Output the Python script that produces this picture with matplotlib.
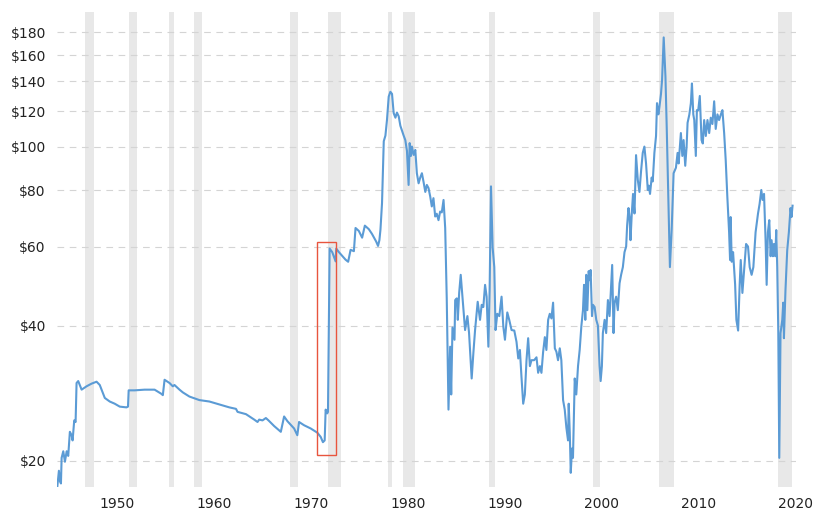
import matplotlib
matplotlib.use("Agg")
import matplotlib.pyplot as plt
from matplotlib.patches import Rectangle
from matplotlib.ticker import FixedLocator, NullLocator

# 价格序列 (年份, 美元)
years = [
    1943.84, 1944.04, 1944.15, 1944.25, 1944.32, 1944.49, 1944.66, 1944.84, 1945.0, 1945.17,
    1945.35, 1945.45, 1945.62, 1945.76, 1945.86, 1946.03, 1946.38, 1946.89, 1947.40, 1947.92,
    1948.25, 1948.77, 1949.28, 1949.79, 1950.31, 1951.0, 1951.16, 1951.23, 1951.85, 1952.87,
    1953.90, 1954.59, 1954.75, 1954.93, 1955.44, 1955.78, 1955.95, 1956.47, 1956.81, 1957.49,
    1958.52, 1959.55, 1960.58, 1961.60, 1962.29, 1962.45, 1963.32, 1964.17, 1964.51, 1964.68,
    1965.02, 1965.37, 1965.64, 1966.22, 1966.91, 1967.25, 1967.59, 1968.28, 1968.61, 1968.79,
    1969.30, 1969.99, 1970.67, 1971.02, 1971.25, 1971.43, 1971.53, 1971.69, 1971.77, 1971.94,
    1972.21, 1972.56, 1972.62, 1972.90, 1973.58, 1973.85, 1974.10, 1974.44, 1974.61, 1974.95,
    1975.29, 1975.57, 1975.98, 1976.31, 1976.73, 1976.93, 1977.07, 1977.18, 1977.34, 1977.52,
    1977.69, 1977.85, 1978.03, 1978.20, 1978.37, 1978.54, 1978.72, 1978.88, 1979.06, 1979.23,
    1979.57, 1979.74, 1979.91, 1980.08, 1980.19, 1980.32, 1980.42, 1980.60, 1980.77, 1980.93,
    1981.11, 1981.28, 1981.45, 1981.62, 1981.80, 1981.96, 1982.13, 1982.31, 1982.47, 1982.64,
    1982.82, 1982.98, 1983.16, 1983.33, 1983.50, 1983.68, 1983.85, 1984.01, 1984.19, 1984.36,
    1984.47, 1984.60, 1984.81, 1984.88, 1985.05, 1985.15, 1985.29, 1985.45, 1985.66, 1985.90,
    1986.14, 1986.31, 1986.58, 1986.76, 1986.93, 1987.20, 1987.44, 1987.61, 1987.78, 1987.96,
    1988.12, 1988.30, 1988.43, 1988.57, 1988.74, 1988.91, 1989.04, 1989.22, 1989.43, 1989.66,
    1989.84, 1990.01, 1990.25, 1990.45, 1990.69, 1990.97, 1991.20, 1991.38, 1991.55, 1991.71,
    1991.89, 1992.06, 1992.23, 1992.40, 1992.58, 1992.74, 1993.02, 1993.26, 1993.43, 1993.61,
    1993.77, 1993.94, 1994.12, 1994.28, 1994.46, 1994.63, 1994.80, 1994.97, 1995.15, 1995.31,
    1995.48, 1995.66, 1995.82, 1996.0, 1996.17, 1996.34, 1996.51, 1996.58, 1996.69, 1996.79,
    1996.92, 1997.02, 1997.20, 1997.36, 1997.54, 1997.71, 1997.88, 1998.05, 1998.16, 1998.29,
    1998.39, 1998.50, 1998.64, 1998.74, 1998.84, 1998.98, 1999.08, 1999.25, 1999.42, 1999.59,
    1999.76, 1999.87, 2000.0, 2000.10, 2000.28, 2000.44, 2000.62, 2000.79, 2000.96, 2001.06,
    2001.20, 2001.31, 2001.47, 2001.64, 2001.82, 2001.98, 2002.16, 2002.33, 2002.50, 2002.60,
    2002.74, 2002.85, 2002.95, 2003.08, 2003.21, 2003.36, 2003.52, 2003.70, 2003.87, 2004.04,
    2004.21, 2004.38, 2004.55, 2004.73, 2004.83, 2004.96, 2005.13, 2005.24, 2005.41, 2005.58,
    2005.68, 2005.82, 2005.93, 2006.09, 2006.20, 2006.37, 2006.55, 2006.68, 2006.85, 2007.01,
    2007.19, 2007.39, 2007.63, 2007.80, 2007.91, 2008.04, 2008.14, 2008.29, 2008.42, 2008.59,
    2008.73, 2008.83, 2009.01, 2009.17, 2009.28, 2009.42, 2009.52, 2009.68, 2009.79, 2009.93,
    2010.09, 2010.27, 2010.40, 2010.54, 2010.71, 2010.88, 2011.06, 2011.22, 2011.39, 2011.57,
    2011.73, 2011.91, 2012.08, 2012.25, 2012.42, 2012.60, 2012.76, 2012.93, 2013.11, 2013.21,
    2013.27, 2013.38, 2013.52, 2013.62, 2013.73, 2013.86, 2014.04, 2014.20, 2014.31, 2014.48,
    2014.65, 2014.86, 2015.06, 2015.23, 2015.43, 2015.61, 2015.84, 2016.09, 2016.25, 2016.43,
    2016.56, 2016.71, 2016.87, 2016.98, 2017.11, 2017.25, 2017.39, 2017.49, 2017.63, 2017.73,
    2017.87, 2017.97, 2018.07, 2018.18, 2018.28, 2018.41, 2018.59, 2018.69, 2018.76, 2018.92,
    2019.10, 2019.27, 2019.44, 2019.54, 2019.65,
]
prices = [
    17.2, 19.0, 18.0, 17.8, 20.3, 21.0, 19.9, 21.0, 20.5, 23.2,
    22.8, 22.2, 24.6, 24.4, 29.8, 30.1, 28.8, 29.3, 29.7, 30.0,
    29.5, 27.6, 27.1, 26.8, 26.4, 26.3, 26.4, 28.7, 28.7, 28.8,
    28.8, 28.2, 28.0, 30.3, 29.8, 29.3, 29.5, 28.8, 28.4, 27.8,
    27.3, 27.1, 26.7, 26.3, 26.1, 25.7, 25.4, 24.7, 24.4, 24.7,
    24.6, 24.9, 24.6, 23.9, 23.2, 25.1, 24.5, 23.6, 22.8, 24.4,
    24.0, 23.6, 23.1, 22.6, 22.0, 22.2, 26.0, 25.5, 25.7, 59.4,
    58.3, 55.6, 59.4, 58.3, 56.1, 55.5, 59.0, 58.6, 66.0, 65.0,
    62.8, 66.8, 65.6, 64.0, 61.6, 60.2, 62.0, 65.5, 75.0, 103.0,
    106.0, 114.8, 129.5, 132.7, 131.3, 119.0, 116.2, 119.3, 117.0, 111.5,
    106.0, 103.6, 98.0, 82.3, 102.0, 95.5, 100.2, 96.0, 98.5, 87.4,
    83.0, 85.5, 87.4, 83.6, 79.4, 82.3, 81.0, 77.5, 73.7, 76.9,
    70.0, 71.0, 68.7, 71.8, 71.5, 76.2, 66.0, 46.0, 26.0, 35.9,
    28.1, 39.6, 37.2, 45.6, 46.0, 41.2, 47.3, 51.9, 45.6, 39.1,
    42.0, 38.5, 30.5, 34.9, 39.1, 45.2, 41.2, 44.5, 44.0, 49.3,
    46.4, 35.9, 48.0, 81.7, 59.7, 54.0, 39.1, 42.5, 42.0, 46.4,
    39.8, 37.2, 42.8, 41.2, 39.1, 39.0, 36.8, 33.8, 35.3, 30.8,
    26.8, 28.1, 33.5, 37.5, 32.5, 33.5, 33.5, 34.0, 31.4, 32.5,
    31.4, 34.9, 37.7, 35.3, 41.2, 42.5, 41.5, 45.0, 35.6, 35.0,
    33.5, 35.6, 33.5, 27.3, 26.0, 23.7, 22.2, 26.8, 23.1, 18.8,
    21.3, 20.3, 30.5, 28.1, 32.5, 35.3, 39.8, 43.3, 49.3, 41.2,
    51.9, 43.3, 52.9, 50.5, 53.2, 42.0, 44.5, 44.0, 41.2, 40.0,
    32.5, 30.1, 32.5, 38.5, 41.2, 38.5, 45.6, 42.0, 49.7, 54.6,
    38.5, 45.0, 46.4, 43.3, 49.7, 51.9, 54.0, 58.3, 60.0, 66.8,
    73.1, 69.8, 62.0, 71.1, 78.6, 71.1, 95.9, 84.4, 79.4, 88.5,
    97.0, 100.2, 91.9, 80.2, 82.0, 78.6, 85.5, 83.8, 97.0, 105.8,
    125.2, 118.2, 122.8, 131.3, 140.9, 175.4, 143.4, 110.8, 76.2, 54.0,
    65.3, 87.4, 89.9, 97.0, 91.9, 100.8, 107.4, 95.5, 103.6, 90.8,
    100.2, 113.2, 118.0, 125.2, 138.5, 118.2, 114.8, 95.5, 120.8, 120.8,
    129.9, 103.6, 101.8, 114.8, 105.8, 114.8, 107.4, 116.2, 112.5, 126.4,
    109.7, 118.2, 114.8, 118.0, 120.8, 107.4, 93.5, 77.3, 64.6, 56.0,
    69.8, 55.5, 58.3, 54.0, 49.4, 41.2, 39.0, 49.4, 56.0, 47.3,
    52.9, 60.8, 60.0, 54.0, 51.9, 54.0, 64.6, 71.1, 74.6, 80.2,
    76.2, 78.6, 62.0, 49.3, 64.6, 68.7, 57.1, 62.0, 57.1, 60.8,
    57.1, 65.3, 54.0, 38.5, 20.3, 38.5, 41.2, 45.0, 37.5, 48.0,
    58.9, 64.6, 73.1, 69.8, 74.0,
]

# 衰退期阴影 (起, 止)
recession_start = [1946.71, 1951.23, 1955.34, 1958.0, 1967.86, 1971.77, 1977.93, 1979.47, 1988.4, 1999.08, 2005.85, 2018.17]
recession_end = [1947.64, 1952.05, 1955.95, 1958.83, 1968.69, 1973.1, 1978.34, 1980.7, 1989.0, 1999.8, 2007.4, 2019.6]

year_ticks = [1950, 1960, 1970, 1980, 1990, 2000, 2010, 2020]
price_ticks = [20, 40, 60, 80, 100, 120, 140, 160, 180]

# 红框 (1971 年前后的跳涨)
box_x = [1970.6, 1972.6]
box_y = [20.6, 61.5]

fig = plt.figure(figsize=(8.28, 5.14), dpi=100)
ax = fig.add_axes([0.0688, 0.0525, 0.8925, 0.9245])

for a, b in zip(recession_start, recession_end):
    ax.axvspan(a, b, color="#e8e8e8", lw=0, zorder=0)

ax.plot(years, prices, color="#5b9bd5", lw=1.5, zorder=3)

ax.add_patch(Rectangle((box_x[0], box_y[0]), box_x[1] - box_x[0], box_y[1] - box_y[0],
                       fill=False, edgecolor="#e8553e", lw=1.0, zorder=4))

ax.set_yscale("log")
ax.set_ylim(17.48, 200)
ax.set_xlim(1943.84, 2019.72)
ax.yaxis.set_major_locator(FixedLocator(price_ticks))
ax.yaxis.set_minor_locator(NullLocator())
ax.set_yticklabels(["$%d" % p for p in price_ticks])
ax.set_xticks(year_ticks)
ax.set_xticklabels([str(y) for y in year_ticks])

ax.grid(axis="y", color="#d4d4d4", ls=(0, (6, 5)), lw=0.8, zorder=1)
ax.set_axisbelow(True)
for s in ax.spines.values():
    s.set_visible(False)
ax.tick_params(length=0, labelsize=10, colors="#222222")
ax.tick_params(axis="y", pad=8)
ax.tick_params(axis="x", pad=7)

plt.savefig("out.png", dpi=100)
plt.close()
